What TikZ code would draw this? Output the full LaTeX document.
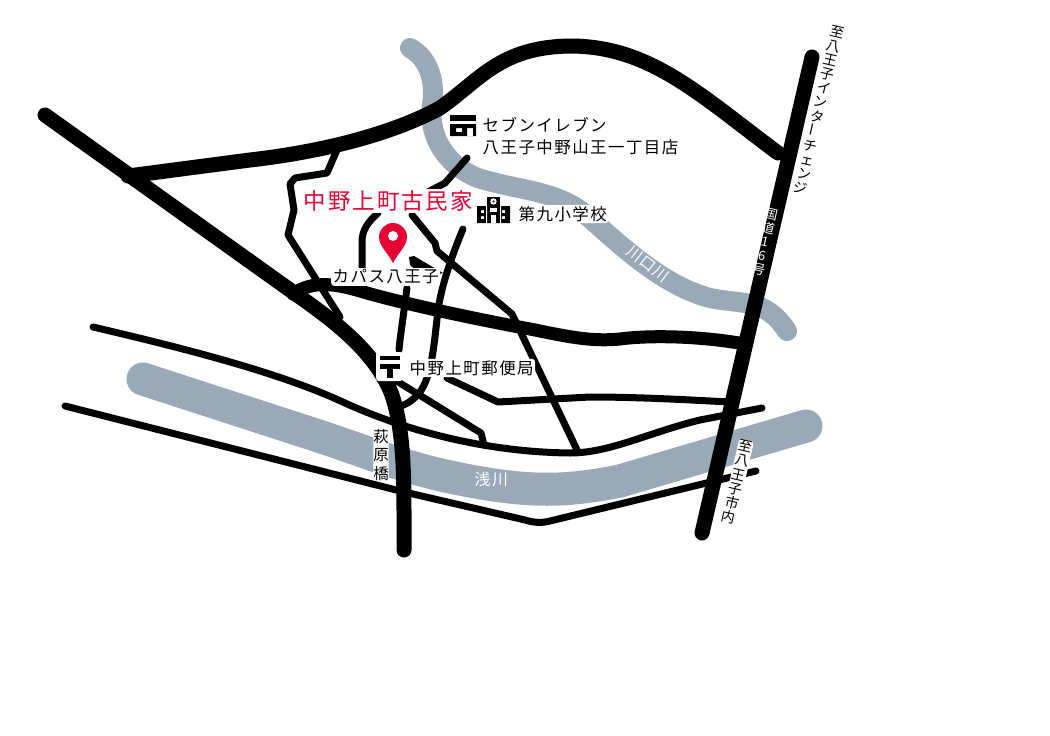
\documentclass[tikz,border=0pt]{standalone}
\usepackage{fontspec}
\setmainfont{Noto Sans CJK JP}
\newfontfamily\jp[LetterSpace=9]{Noto Sans CJK JP}
\newfontfamily\jpv{Noto Sans CJK JP}
\definecolor{riverc}{HTML}{99A9B7}
\definecolor{pinred}{HTML}{E60033}
\tikzset{
 river/.style={draw=riverc,line cap=round,line join=round},
 road/.style={draw=black,line cap=round,line join=round},
 thick road/.style={road,line width=15bp},
 thin road/.style={road,line width=7bp},
 casing/.style={draw=white,line width=14bp,line cap=butt},
 lab/.style={font=\fontsize{16.5}{18}\selectfont\jp,text=black,fill=white,rounded corners=3bp,inner sep=1.5bp,anchor=west,align=left},
 vlab/.style={rounded corners=3bp,inner sep=0.5bp,align=center,font=\fontsize{14}{14.6}\selectfont\jpv,rotate=-13},
}
\begin{document}
\begin{tikzpicture}[x=1bp,y=-1bp]
\useasboundingbox (0,0) rectangle (1050,736);
\fill[white] (0,0) rectangle (1050,736);
% rivers
\draw[river,line width=20bp] (410,48) .. controls (428,58) and (436,80) .. (432,105) .. controls (428,135) and (445,165) .. (478,178) .. controls (520,191) and (555,190) .. (585,214) .. controls (615,240) and (660,285) .. (710,298) .. controls (745,305) and (765,298) .. (787,331);
\draw[river,line width=33bp] (143,379) -- (300,430) .. controls (370,452) and (400,468) .. (470,481) .. controls (530,492) and (565,492) .. (620,481) -- (806,426);
% thin roads crossing the river
\path[casing] (65,406) -- (400,491) -- (525,521);
\path[casing] (345,403) .. controls (400,428) and (480,450) .. (570,453) .. controls (610,453) and (650,432) .. (700,420);
\draw[thin road] (65,406) -- (400,491) -- (525,520) .. controls (535,523) and (542,523) .. (550,521) -- (756,471);
\draw[thin road] (93,327) .. controls (200,352) and (285,375) .. (345,403) .. controls (400,428) and (480,452) .. (570,453) .. controls (610,453) and (650,432) .. (700,420) -- (762,408);
% minor roads
\draw[thin road] (337,150) -- (327,173) -- (295,178) -- (290,184) -- (294,210) -- (288,235) -- (340,317);
\draw[thin road] (467,158) -- (445,183) -- (428,192);
\draw[thin road] (378,213) .. controls (368,222) and (362,230) .. (362,242) -- (362,268);
\draw[thin road] (412,215) -- (435,243) -- (437,251) -- (512,314) -- (578,452);
\draw[thin road] (463,229) .. controls (448,265) and (441,290) .. (438,310) .. controls (434,345) and (432,375) .. (420,392) .. controls (412,402) and (402,407) .. (395,407);
\draw[thin road] (407,288) -- (400,340) -- (399,350);
\draw[thin road] (395,380) -- (481,433) -- (484,445);
\draw[thin road] (447,378) -- (498,402) -- (590,397) .. controls (640,397) and (690,400) .. (730,402);
\fill (409,257) -- (414,256) -- (443,273) -- (425,278) -- (410,265) -- cycle;
% major roads
\draw[thick road] (128,176) -- (250,160) .. controls (320,152) and (390,135) .. (440,108) .. controls (480,80) and (500,47) .. (570,46) .. controls (650,46) and (700,95) .. (778,153);
\draw[thick road] (45,115) -- (290,290) .. controls (330,318) and (375,350) .. (392,395) .. controls (405,435) and (404,480) .. (404,550);
\draw[road,line width=13bp] (293,294) .. controls (310,282) and (330,282) .. (360,291) .. controls (400,303) and (480,320) .. (530,329) .. controls (565,336) and (590,342) .. (620,339) .. controls (650,335) and (700,336) .. (745,344);
\draw[road,line width=15bp] (812,57) -- (702,533);
% labels
\node[lab] (seven1) at (481,125) {セブンイレブン};
\node[lab] (seven2) at (481,147) {八王子中野山王一丁目店};
\node[lab,font=\fontsize{22.5}{24}\selectfont\jp,text=pinred] (house) at (302,201) {中野上町古民家};
\node[lab] (school) at (517,214) {第九小学校};
\node[lab] (capas) at (331,277) {カパス八王子};
\node[lab] (post) at (408,368) {中野上町郵便局};
\node[lab,fill=none,text=white,font=\fontsize{16}{18}\selectfont\jp] (asa) at (473,480) {浅川};
\node[lab,fill=none,text=white,font=\fontsize{15.5}{18}\selectfont\jp,anchor=center,rotate=-38] (kawa) at (648,264) {川口川};
\node[fill=white,rounded corners=3bp,inner sep=0bp,align=center,font=\fontsize{15.5}{18.5}\selectfont\jpv] (hagi) at (381,455) {萩\\原\\橋};
\node[vlab,text=white,font=\fontsize{13}{14}\selectfont\jpv] (route) at (765,242) {国\\道\\1\\6\\号};
\node[vlab] (ic) at (819,110) {至\\八\\王\\子\\イ\\ン\\タ\\\rotatebox{90}{ー}\\チ\\ェ\\ン\\ジ};
\node[vlab,fill=white] (city) at (737,482) {至\\八\\王\\子\\市\\内};
% seven icon
\fill (450,115) rectangle (476,121);
\fill[even odd rule] (450,124) rectangle (476,136) (456,128) rectangle (462,132) (467,128) rectangle (473,136);
% school icon
\fill[even odd rule] (477,206) rectangle (510,223)
 (481,210) rectangle (484,213) (481,216) rectangle (484,219)
 (502,210) rectangle (505,213) (502,216) rectangle (505,219);
\fill (487,197) rectangle (500,223);
\fill[white] (486,206) rectangle (487,223) (500,206) rectangle (501,223);
\fill[white] (490,208) rectangle (497,212);
\fill[white] (491,215) rectangle (496,223);
\fill[white] (493.5,201.5) circle (3.2bp);
\fill (493.5,201.5) circle (1.2bp);
% post mark
\fill[white,rounded corners=3bp] (376,352) rectangle (403,381);
\fill (380,356) rectangle (400,360);
\fill (380,364) rectangle (400,369);
\fill (386.5,364) rectangle (393,378);
% pin
\fill[pinred] (393,263) .. controls (388,253) and (379,246) .. (379,237) arc[start angle=180,end angle=0,radius=14bp] .. controls (407,246) and (398,253) .. (393,263) -- cycle;
\fill[white] (393,236) circle (5bp);
\end{tikzpicture}
\end{document}
